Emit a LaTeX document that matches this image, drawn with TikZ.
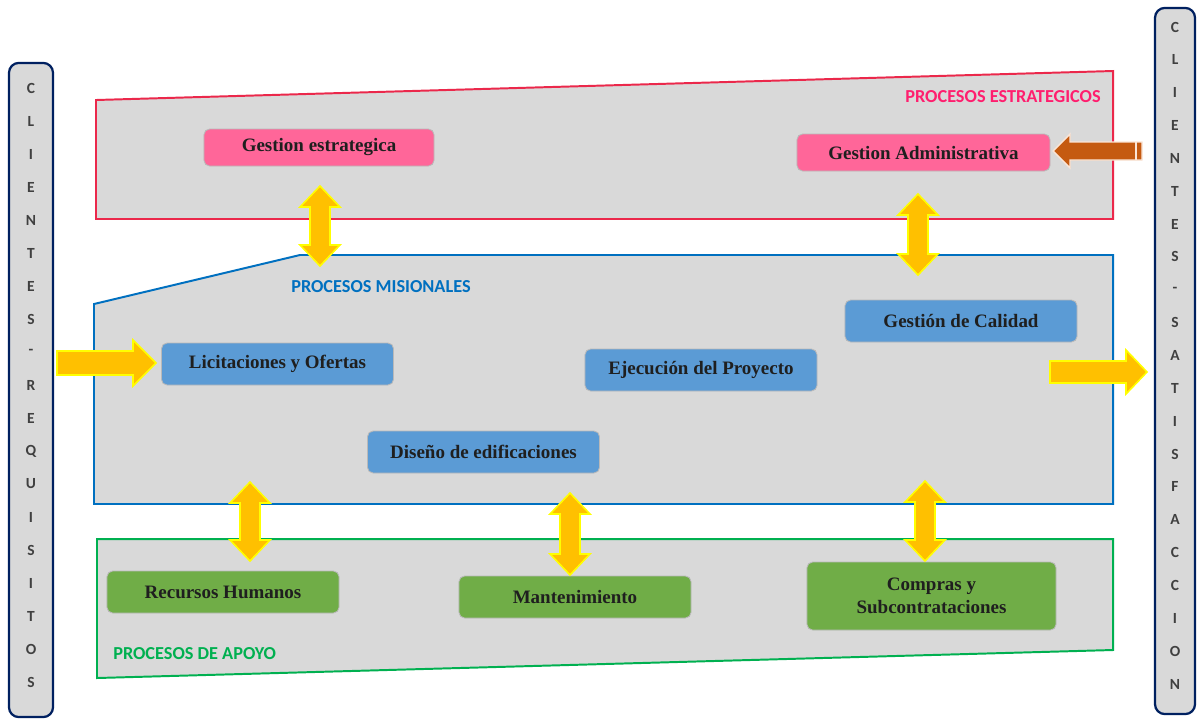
\documentclass[tikz,border=0pt]{standalone}
\usepackage{fontspec}
\setmainfont{Liberation Serif}
\newfontfamily\calib{Carlito}
\definecolor{panelgray}{RGB}{217,217,217}
\definecolor{redline}{RGB}{235,40,75}
\definecolor{pinklabel}{RGB}{255,30,110}
\definecolor{pinkbox}{RGB}{255,102,153}
\definecolor{blueline}{RGB}{0,112,192}
\definecolor{bluebox}{RGB}{91,155,213}
\definecolor{greenline}{RGB}{0,176,80}
\definecolor{greenbox}{RGB}{112,173,71}
\definecolor{navy}{RGB}{0,32,96}
\definecolor{orangearrow}{RGB}{197,90,17}
\definecolor{orangeedge}{RGB}{251,229,214}
\definecolor{yellowfill}{RGB}{255,192,0}
\definecolor{yellowedge}{RGB}{255,255,0}
\definecolor{lettergray}{RGB}{64,64,64}
\newcommand{\yarrowV}[3]{% center x, top y, bottom y
  \filldraw[yarrow] ({#1},{#2}) -- ({#1+20},{#2+21}) -- ({#1+10},{#2+21}) -- ({#1+10},{#3-21}) -- ({#1+20},{#3-21}) -- ({#1},{#3}) -- ({#1-20},{#3-21}) -- ({#1-10},{#3-21}) -- ({#1-10},{#2+21}) -- ({#1-20},{#2+21}) -- cycle;}
\begin{document}
\begin{tikzpicture}[x=0.025cm,y=-0.025cm,
  yarrow/.style={fill=yellowfill,draw=yellowedge,line width=1.1pt,line join=miter},
  panel/.style={fill=panelgray,line width=1.4pt,line join=miter},
  procbox/.style={rounded corners=4pt,draw=gray!55,line width=0.6pt,minimum width=5.8cm,minimum height=1.05cm,
    font=\fontsize{13.5}{16}\selectfont\bfseries,text=black!88,align=center,inner sep=2pt},
  pinkstyle/.style={procbox,fill=pinkbox},
  bluestyle/.style={procbox,fill=bluebox},
  greenstyle/.style={procbox,fill=greenbox},
  grouplabel/.style={font=\calib\bfseries\fontsize{13}{15}\selectfont,inner sep=0pt},
  sidebar/.style={rounded corners=7pt,draw=navy,line width=1.6pt,fill=panelgray,inner sep=0pt},
  sideletter/.style={font=\calib\bfseries\fontsize{11}{13}\selectfont,text=lettergray,inner sep=0pt}
]
\useasboundingbox (0,0) rectangle (1200,719);

% side bars
\node[sidebar,minimum width=1.1cm,minimum height=16.35cm] (leftbar) at (31,390) {};
\node[sidebar,minimum width=1.0cm,minimum height=17.65cm] (rightbar) at (1175,361) {};
\foreach \ch [count=\i] in {C,L,I,E,N,T,E,S,-,R,E,Q,U,I,S,I,T,O,S}
  \node[sideletter] (lft\i) at (31,{88+33*(\i-1)}) {\ch};
\foreach \ch [count=\i] in {C,L,I,E,N,T,E,S,-,S,A,T,I,S,F,A,C,C,I,O,N}
  \node[sideletter] (rgt\i) at (1175,{27+32.85*(\i-1)}) {\ch};

% panels
\draw[panel,draw=redline] (96,100) -- (1113,71) -- (1113,219) -- (96,219) -- cycle;
\draw[panel,draw=blueline] (94,304) -- (300,255) -- (1113,255) -- (1113,504) -- (94,504) -- cycle;
\draw[panel,draw=greenline] (97,539) -- (1113,539) -- (1113,650) -- (97,678) -- cycle;

% group labels
\node[grouplabel,text=pinklabel,anchor=east] (lblest) at (1101,97) {PROCESOS ESTRATEGICOS};
\node[grouplabel,text=blueline,anchor=west] (lblmis) at (291,287) {PROCESOS MISIONALES};
\node[grouplabel,text=greenline,anchor=west] (lblapo) at (113,654) {PROCESOS DE APOYO};

% process boxes
\node[pinkstyle,minimum width=5.75cm,minimum height=0.925cm] (gest) at (319,147.5) {Gestion estrategica};
\node[pinkstyle,minimum width=6.325cm,minimum height=0.925cm] (gadm) at (923.5,152.5) {Gestion Administrativa};
\node[bluestyle] (lic) at (277.5,364) {Licitaciones y Ofertas};
\node[bluestyle] (ejec) at (701,370) {Ejecución del Proyecto};
\node[bluestyle] (cal) at (961,321) {Gestión de Calidad};
\node[bluestyle] (dis) at (483.5,452) {Diseño de edificaciones};
\node[greenstyle] (rh) at (223,592) {Recursos Humanos};
\node[greenstyle] (mant) at (575,597) {Mantenimiento};
\node[greenstyle,minimum width=6.225cm,minimum height=1.7cm] (comp) at (931.5,596) {Compras y\\Subcontrataciones};

% vertical double arrows
\yarrowV{320}{186}{266}
\yarrowV{918}{194}{275}
\yarrowV{250}{482}{561}
\yarrowV{570}{493}{575}
\yarrowV{925}{481}{561}

% input arrow (left)
\filldraw[yarrow] (57,351) -- (133,351) -- (133,340) -- (156,363) -- (133,386) -- (133,375) -- (57,375) -- cycle;
% output arrow (right)
\filldraw[yarrow] (1050,361) -- (1126,361) -- (1126,350) -- (1147,372) -- (1126,394) -- (1126,383) -- (1050,383) -- cycle;
% orange arrow into Gestion Administrativa
\filldraw[fill=orangearrow,draw=orangeedge,line width=1pt,line join=miter]
  (1142,142) -- (1070,142) -- (1070,134) -- (1053,151) -- (1070,168) -- (1070,160) -- (1142,160) -- cycle;
\draw[orangeedge,line width=1pt] (1136,142) -- (1136,160);
\end{tikzpicture}
\end{document}
